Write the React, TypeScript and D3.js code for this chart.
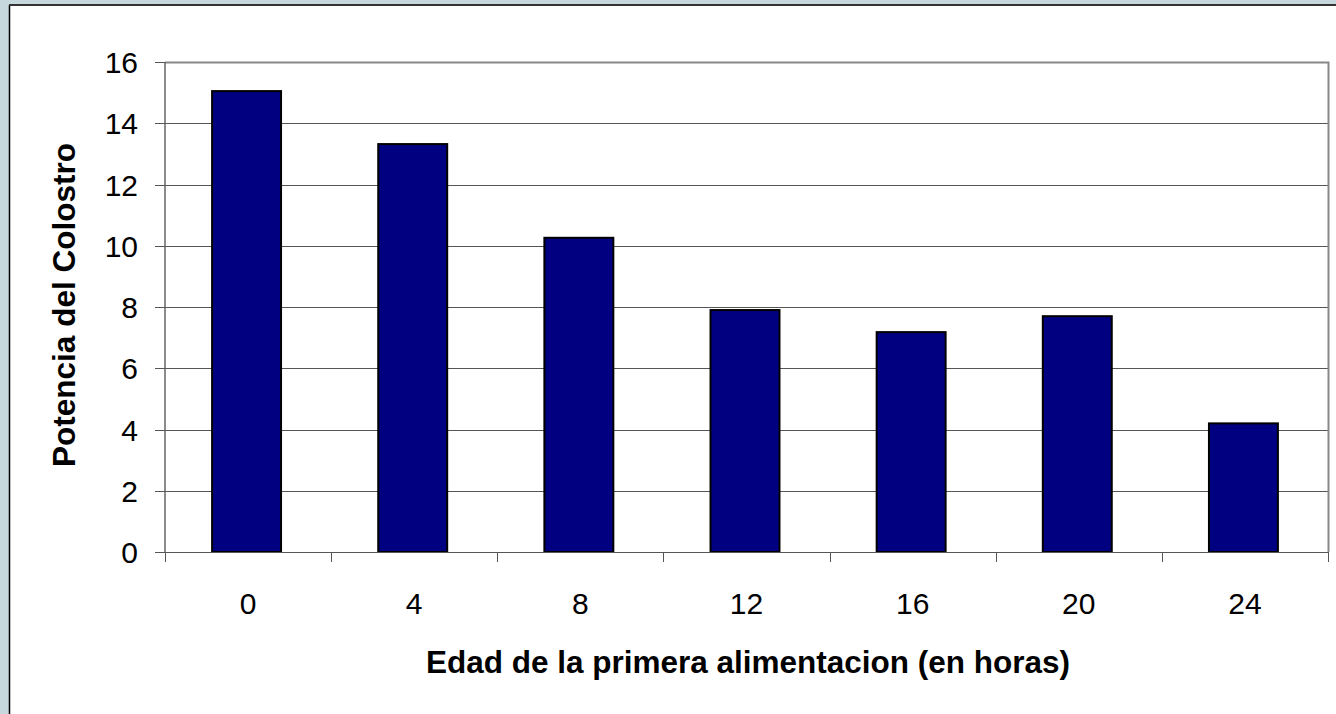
import { useEffect, useRef } from 'react';
import * as d3 from 'd3';

const hours = ['0', '4', '8', '12', '16', '20', '24'];
const potencia = [15.05, 13.32, 10.26, 7.9, 7.18, 7.7, 4.2];
const yTicks = [0, 2, 4, 6, 8, 10, 12, 14, 16];

const W = 1336;
const H = 714;

export default function App() {
  const ref = useRef<SVGSVGElement>(null);

  useEffect(() => {
    const svg = d3.select(ref.current);
    svg.selectAll('*').remove();

    // frame
    svg.append('rect').attr('width', W).attr('height', H).attr('fill', '#c6d7dd');
    svg.append('rect').attr('x', 9).attr('y', 5).attr('width', W - 9).attr('height', H - 5).attr('fill', '#fff');
    svg.append('line').attr('x1', 9.5).attr('x2', 9.5).attr('y1', 5).attr('y2', H).attr('stroke', '#000').attr('stroke-width', 1.5);
    svg.append('line').attr('x1', 9).attr('x2', W).attr('y1', 5).attr('y2', 5).attr('stroke', '#333').attr('stroke-width', 2);

    const left = 165;
    const right = 1328;
    const top = 62;
    const bottom = 552;

    const x = d3.scaleBand().domain(hours).range([left, right]).paddingInner(0).paddingOuter(0);
    const y = d3.scaleLinear().domain([0, 16]).range([bottom, top]);

    const font = "'Liberation Sans', Arial, sans-serif";

    // gridlines
    svg
      .append('g')
      .selectAll('line')
      .data(yTicks.filter((t) => t > 0 && t < 16))
      .join('line')
      .attr('x1', left)
      .attr('x2', right)
      .attr('y1', (d) => Math.round(y(d)) + 0.5)
      .attr('y2', (d) => Math.round(y(d)) + 0.5)
      .attr('stroke', '#555')
      .attr('stroke-width', 1);

    // plot border top and right
    svg
      .append('path')
      .attr('d', `M${left},${top + 0.5}H${right + 0.5}V${bottom}`)
      .attr('fill', 'none')
      .attr('stroke', '#888')
      .attr('stroke-width', 2);

    // bars
    const bw = x.bandwidth() * 0.415;
    svg
      .append('g')
      .selectAll('rect')
      .data(hours.map((h, i) => ({ h, v: potencia[i] })))
      .join('rect')
      .attr('x', (d) => x(d.h)! + x.bandwidth() / 2 - bw / 2 - 1.5)
      .attr('y', (d) => y(d.v))
      .attr('width', bw)
      .attr('height', (d) => bottom - y(d.v))
      .attr('fill', '#000080')
      .attr('stroke', '#000')
      .attr('stroke-width', 2);

    // y axis
    const ya = svg.append('g').attr('transform', `translate(${left},0)`);
    ya.append('line').attr('x1', 0).attr('x2', 0).attr('y1', top).attr('y2', bottom).attr('stroke', '#666').attr('stroke-width', 1.5);
    yTicks.forEach((t) => {
      const yy = Math.round(y(t)) + 0.5;
      ya.append('line').attr('x1', -10).attr('x2', 0).attr('y1', yy).attr('y2', yy).attr('stroke', '#555');
      ya.append('text')
        .attr('x', -27)
        .attr('y', yy)
        .attr('dy', '0.36em')
        .attr('text-anchor', 'end')
        .attr('font-family', font)
        .attr('font-size', 30)
        .attr('fill', '#000')
        .text(t);
    });

    // x axis
    const xa = svg.append('g');
    xa.append('line').attr('x1', left).attr('x2', right).attr('y1', bottom + 0.5).attr('y2', bottom + 0.5).attr('stroke', '#555');
    d3.range(hours.length + 1).forEach((i) => {
      const xx = Math.round(left + i * x.step()) + 0.5;
      xa.append('line').attr('x1', xx).attr('x2', xx).attr('y1', bottom).attr('y2', bottom + 10).attr('stroke', '#555');
    });
    hours.forEach((h) => {
      xa.append('text')
        .attr('x', x(h)! + x.bandwidth() / 2)
        .attr('y', 614)
        .attr('text-anchor', 'middle')
        .attr('font-family', font)
        .attr('font-size', 30)
        .attr('fill', '#000')
        .text(h);
    });

    // titles
    svg
      .append('text')
      .attr('x', 748)
      .attr('y', 673)
      .attr('text-anchor', 'middle')
      .attr('font-family', font)
      .attr('font-weight', 'bold')
      .attr('font-size', 31.5)
      .text('Edad de la primera alimentacion (en horas)');

    svg
      .append('text')
      .attr('transform', `translate(75,${305}) rotate(-90)`)
      .attr('text-anchor', 'middle')
      .attr('font-family', font)
      .attr('font-weight', 'bold')
      .attr('font-size', 31.5)
      .text('Potencia del Colostro');
  }, []);

  return (
    <svg
      ref={ref}
      width={W}
      height={H}
      style={{ position: 'absolute', left: 0, top: 0, display: 'block' }}
    />
  );
}
